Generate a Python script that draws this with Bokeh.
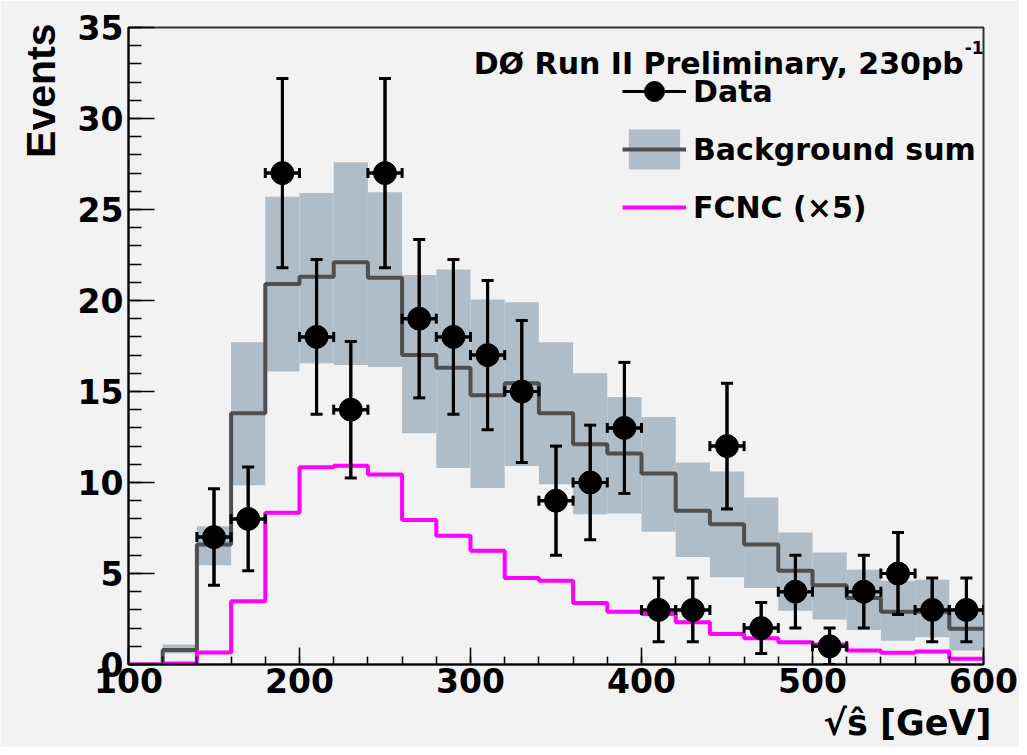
from bokeh.plotting import figure
from bokeh.models import (Range1d, SingleIntervalTicker, ColumnDataSource, Whisker, TeeHead,
                          Legend, LegendItem, Label, Title)
from bokeh.embed import file_html
from bokeh.resources import INLINE

# ---------------- data ----------------
bin_edges = [100, 120, 140, 160, 180, 200, 220, 240, 260, 280, 300, 320, 340,
             360, 380, 400, 420, 440, 460, 480, 500, 520, 540, 560, 580, 600]

# background sum (central value) per bin
bkg = [0.0, 0.8, 6.6, 13.8, 20.9, 21.3, 22.1, 21.25, 17.0, 16.3, 14.8, 15.45, 13.8,
       12.1, 11.6, 10.5, 8.45, 7.7, 6.6, 5.15, 4.35, 3.65, 2.9, 2.9, 1.97]
# background uncertainty band
bkg_hi = [0.0, 1.1, 7.6, 17.7, 25.7, 25.9, 27.6, 25.95, 21.4, 21.7, 20.05, 19.9, 17.7,
          16.0, 14.7, 13.6, 11.1, 10.6, 9.17, 7.25, 6.15, 5.2, 4.6, 4.65, 3.1]
bkg_lo = [0.0, 0.6, 5.45, 9.85, 16.1, 16.55, 16.45, 16.35, 12.7, 10.8, 9.7, 10.9, 9.9,
          8.25, 8.3, 7.3, 5.9, 4.8, 4.2, 2.96, 2.47, 1.9, 1.3, 1.5, 0.77]

# FCNC signal (x5)
fcnc = [0.0, 0.05, 0.66, 3.47, 8.34, 10.84, 10.92, 10.44, 7.94, 7.07, 6.25, 4.75, 4.6,
        3.38, 2.9, 2.78, 2.32, 1.68, 1.44, 1.22, 1.1, 0.77, 0.64, 0.72, 0.31]

# data points (bin centres), counts and errors
data_x = [150, 170, 190, 210, 230, 250, 270, 290, 310, 330, 350, 370, 390, 410, 430,
          450, 470, 490, 510, 530, 550, 570, 590]
data_y = [7, 8, 27, 18, 14, 27, 19, 18, 17, 15, 9, 10, 13, 3, 3, 12, 2, 4, 1, 4, 5, 3, 3]
data_err = [2.65, 2.85, 5.2, 4.25, 3.75, 5.2, 4.35, 4.25, 4.1, 3.9, 3.0, 3.15, 3.6, 1.75,
            1.75, 3.45, 1.4, 2.0, 1.0, 2.0, 2.25, 1.75, 1.75]
bin_half_width = 10

header_text = "DØ Run II Preliminary, 230pb"
header_sup = "-1"
x_title = "√ŝ [GeV]"
y_title = "Events"
legend_labels = ["Data", "Background sum", "FCNC (×5)"]

# ---------------- styling ----------------
BG = "#f2f2f2"
BAND = "#aebdc8"
BKG_LINE = "#4f4f4f"
MAGENTA = "#ff00ff"
FONT = "DejaVu Sans"

p = figure(width=1019, height=747, x_range=Range1d(100, 600), y_range=Range1d(0, 35),
           output_backend="svg", toolbar_location=None,
           min_border_left=128, min_border_right=36, min_border_top=27, min_border_bottom=81,
           background_fill_color=BG, border_fill_color=BG)
p.grid.visible = False
p.outline_line_color = "#333333"
p.outline_line_width = 2

# axes
p.xaxis.ticker = SingleIntervalTicker(interval=100, num_minor_ticks=5)
p.yaxis.ticker = SingleIntervalTicker(interval=5, num_minor_ticks=5)
for ax in (p.xaxis[0], p.yaxis[0]):
    ax.axis_line_color = "black"
    ax.axis_line_width = 2
    ax.major_tick_line_color = "black"
    ax.minor_tick_line_color = "black"
    ax.major_tick_line_width = 1.5
    ax.minor_tick_line_width = 1.5
    ax.major_tick_out = 0
    ax.minor_tick_out = 0
    ax.major_label_text_font = FONT
    ax.major_label_text_font_style = "bold"
    ax.major_label_text_font_size = "33px"
    ax.major_label_text_color = "black"
p.xaxis.major_tick_in = 17
p.xaxis.minor_tick_in = 8
p.yaxis.major_tick_in = 26
p.yaxis.minor_tick_in = 13
p.xaxis.major_label_standoff = 3
p.yaxis.major_label_standoff = 5

# background band
band_src = ColumnDataSource(dict(left=bin_edges[:-1], right=bin_edges[1:],
                                 bottom=bkg_lo, top=bkg_hi))
band_r = p.quad(left="left", right="right", bottom="bottom", top="top", source=band_src,
                fill_color=BAND, line_color=None)

# background sum line (step)
bkg_r = p.step(x=bin_edges, y=bkg + [bkg[-1]], mode="after",
               line_color=BKG_LINE, line_width=4)

# FCNC line (step)
fcnc_r = p.step(x=bin_edges, y=fcnc + [fcnc[-1]], mode="after",
                line_color=MAGENTA, line_width=4)

# data with error bars
dsrc = ColumnDataSource(dict(
    x=data_x, y=data_y,
    xl=[x - bin_half_width for x in data_x], xu=[x + bin_half_width for x in data_x],
    yl=[y - e for y, e in zip(data_y, data_err)], yu=[y + e for y, e in zip(data_y, data_err)],
))
hbar_r = p.segment(x0="xl", y0="y", x1="xu", y1="y", source=dsrc,
                   line_color="black", line_width=3)
vbar_r = p.segment(x0="x", y0="yl", x1="x", y1="yu", source=dsrc,
                   line_color="black", line_width=3)
wy = Whisker(source=dsrc, base="x", lower="yl", upper="yu", dimension="height",
             line_color="black", line_width=3, level="annotation",
             upper_head=TeeHead(size=12, line_width=3, line_color="black"),
             lower_head=TeeHead(size=12, line_width=3, line_color="black"))
wx = Whisker(source=dsrc, base="y", lower="xl", upper="xu", dimension="width",
             line_color="black", line_width=3, level="annotation",
             upper_head=TeeHead(size=10, line_width=3, line_color="black"),
             lower_head=TeeHead(size=10, line_width=3, line_color="black"))
p.add_layout(wy)
p.add_layout(wx)
pts_r = p.scatter(x="x", y="y", source=dsrc, marker="circle", size=23,
                  fill_color="black", line_color="black")

# legend
legend = Legend(items=[
    LegendItem(label=legend_labels[0], renderers=[hbar_r, pts_r]),
    LegendItem(label=legend_labels[1], renderers=[band_r, bkg_r]),
    LegendItem(label=legend_labels[2], renderers=[fcnc_r]),
], location=(494, 432), orientation="vertical",
    glyph_width=64, glyph_height=50, spacing=8, padding=0, margin=0,
    label_standoff=7, label_text_font=FONT, label_text_font_style="bold",
    label_text_font_size="30px", label_text_color="black",
    background_fill_alpha=0, border_line_alpha=0)
p.add_layout(legend)

# header text
p.add_layout(Label(x=588.5, y=33.0, text=header_text, text_align="right",
                   text_baseline="alphabetic", text_font=FONT, text_font_style="bold",
                   text_font_size="30px", text_color="black"))
p.add_layout(Label(x=589, y=33.9, text=header_sup, text_align="left",
                   text_baseline="alphabetic", text_font=FONT, text_font_style="bold",
                   text_font_size="17px", text_color="black"))

# axis titles (as side-panel titles, aligned to the frame ends like ROOT)
p.add_layout(Title(text=x_title, align="right", offset=-8, standoff=10,
                   text_font=FONT, text_font_style="bold", text_font_size="35px",
                   text_color="black"), "below")
p.add_layout(Title(text=y_title, align="right", offset=-4, standoff=22,
                   text_font="Liberation Sans", text_font_style="bold",
                   text_font_size="41px", text_color="black"), "left")

open("out.html", "w").write(file_html(p, INLINE))
